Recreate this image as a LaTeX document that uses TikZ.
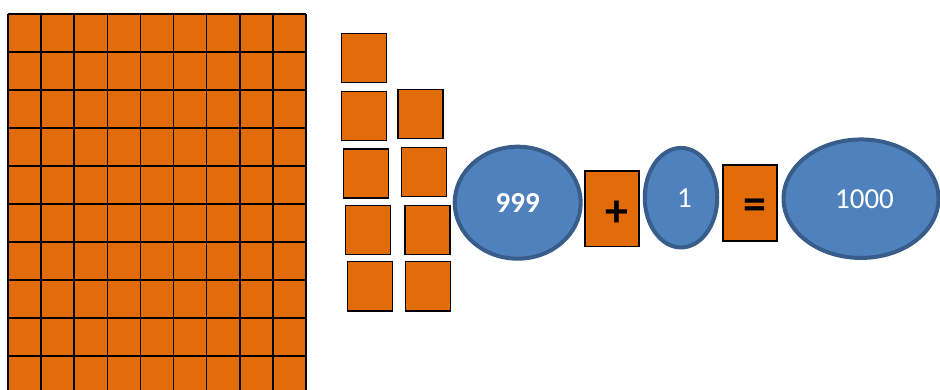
\documentclass[tikz,border=0pt]{standalone}
\usepackage{fontspec}
\setmainfont{Carlito}
\usetikzlibrary{shapes.geometric}
\definecolor{orng}{RGB}{227,108,10}
\definecolor{bfill}{RGB}{79,129,189}
\definecolor{bline}{RGB}{56,93,138}
\begin{document}
\begin{tikzpicture}[x=1pt,y=-1pt,
  sq/.style={draw=black,line width=1.6pt,fill=orng,minimum width=45pt,minimum height=49pt,inner sep=0pt},
  oval/.style={ellipse,draw=bline,line width=4pt,fill=bfill,text=white,inner sep=0pt,font=\fontsize{29}{30}\selectfont},
  opbox/.style={draw=black,line width=1.5pt,fill=orng,inner sep=0pt},
  optext/.style={font=\fontsize{46}{46}\selectfont\bfseries,text=black,inner sep=0pt}]
\useasboundingbox (0,0) rectangle (940,390);
\begin{scope}
  \clip (0,0) rectangle (940,390);
  \fill[orng] (8,14) rectangle (306,394);
  \foreach \i in {0,...,9} \draw[line width=1.5pt] ({8+33.111*\i},14) -- ({8+33.111*\i},394);
  \foreach \j in {0,...,10} \draw[line width=1.5pt] (8,{14+38*\j}) -- (306,{14+38*\j});
\end{scope}
\node[sq] (s1) at (364,58) {};
\node[sq] (s2l) at (364,116) {};
\node[sq] (s2r) at (420.2,114) {};
\node[sq] (s3l) at (366,173.8) {};
\node[sq] (s3r) at (424,172.2) {};
\node[sq] (s4l) at (368,230) {};
\node[sq] (s4r) at (427.7,230) {};
\node[sq] (s5l) at (369.8,286.2) {};
\node[sq] (s5r) at (427.8,286.2) {};
\node[oval,minimum width=126pt,minimum height=112pt] (a) at (517.7,202.7) {\raisebox{-2pt}{\bfseries 999}};
\node[opbox,minimum width=54pt,minimum height=75.5pt] (plus) at (612,208.8) {};
\node[optext] (plust) at (616.7,214) {+};
\node[oval,minimum width=72.5pt,minimum height=99.5pt] (b) at (681,197.7) {\hspace*{7pt}\raisebox{-2pt}{1}};
\node[opbox,minimum width=54pt,minimum height=76pt] (eq) at (750,202.8) {};
\node[optext] (eqt) at (755,209) {=};
\node[oval,minimum width=155pt,minimum height=118.5pt] (c) at (861,198.7) {\hspace*{7pt}\raisebox{-2pt}{1000}};
\end{tikzpicture}
\end{document}
